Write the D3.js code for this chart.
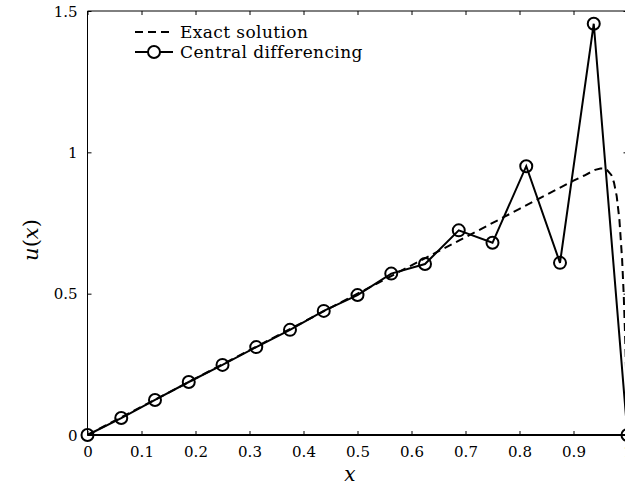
<!DOCTYPE html>
<html lang="en">
<head>
  <meta charset="UTF-8">
  <title>Central differencing vs exact</title>
  <script src="https://d3js.org/d3.v7.min.js"></script>
  <style>
    body { margin: 0; background: white; }
    text { font-family: "DejaVu Serif", serif; fill: #000; }
    .tick text { font-size: 15px; }
  </style>
</head>
<body>
  <div id="chart"></div>
  <script>
    const width = 625, height = 486;

    // Central differencing nodes (x = i/16)
    const cdX = [0, 0.0625, 0.125, 0.1875, 0.25, 0.3125, 0.375, 0.4375, 0.5,
                 0.5625, 0.625, 0.6875, 0.75, 0.8125, 0.875, 0.9375, 1];
    const cdU = [0, 0.06, 0.124, 0.1875, 0.248, 0.311, 0.372, 0.439, 0.495,
                 0.571, 0.605, 0.724, 0.68, 0.951, 0.609, 1.455, 0];

    // Exact solution
    const exactX = [0, 0.1, 0.2, 0.3, 0.4, 0.5, 0.6, 0.7, 0.8, 0.9, 0.92, 0.94, 0.95,
                    0.96, 0.97, 0.975, 0.98, 0.985, 0.99, 0.993, 0.996, 0.998, 1];
    const exactU = [0, 0.1, 0.2, 0.3, 0.4, 0.5, 0.6, 0.7, 0.8, 0.9, 0.918, 0.938, 0.943,
                    0.942, 0.92, 0.893, 0.845, 0.762, 0.622, 0.496, 0.326, 0.179, 0];

    const xTicks = [0, 0.1, 0.2, 0.3, 0.4, 0.5, 0.6, 0.7, 0.8, 0.9, 1];
    const yTicks = [0, 0.5, 1, 1.5];

    const margin = {left: 87.5, top: 11, right: 627.5, bottom: 435};

    const svg = d3.select("#chart").append("svg")
      .attr("width", width).attr("height", height);

    const x = d3.scaleLinear().domain([0, 1]).range([margin.left, margin.right]);
    const y = d3.scaleLinear().domain([0, 1.5]).range([margin.bottom, margin.top]);

    // bottom axis with labels, ticks inward
    svg.append("g")
      .attr("transform", `translate(0,${margin.bottom})`)
      .call(d3.axisBottom(x).tickValues(xTicks).tickSizeInner(-4).tickSizeOuter(0)
        .tickPadding(11).tickFormat(d => d3.format("")(d)))
      .call(g => g.select(".domain").remove());

    // top ticks
    svg.append("g")
      .attr("transform", `translate(0,${margin.top})`)
      .call(d3.axisTop(x).tickValues(xTicks).tickSizeInner(-4).tickSizeOuter(0).tickFormat(""))
      .call(g => g.select(".domain").remove());

    // left axis
    svg.append("g")
      .attr("transform", `translate(${margin.left},0)`)
      .call(d3.axisLeft(y).tickValues(yTicks).tickSizeInner(-4).tickSizeOuter(0)
        .tickPadding(10).tickFormat(d => d3.format("")(d)))
      .call(g => g.select(".domain").remove())
      .call(g => g.selectAll(".tick text").attr("dy", "0.35em"));

    // right ticks
    svg.append("g")
      .attr("transform", `translate(${margin.right},0)`)
      .call(d3.axisRight(y).tickValues(yTicks).tickSizeInner(-4).tickSizeOuter(0).tickFormat(""))
      .call(g => g.select(".domain").remove());

    // spines
    svg.append("line").attr("x1", margin.left).attr("x2", margin.right)
      .attr("y1", margin.top).attr("y2", margin.top).attr("stroke", "#000").attr("stroke-width", 1);
    svg.append("line").attr("x1", margin.left).attr("x2", margin.left)
      .attr("y1", margin.top).attr("y2", margin.bottom).attr("stroke", "#000").attr("stroke-width", 1);
    svg.append("line").attr("x1", margin.right).attr("x2", margin.right)
      .attr("y1", margin.top).attr("y2", margin.bottom).attr("stroke", "#000").attr("stroke-width", 1);
    svg.append("line").attr("x1", margin.left).attr("x2", margin.right)
      .attr("y1", margin.bottom).attr("y2", margin.bottom).attr("stroke", "#000").attr("stroke-width", 2);

    const line = d3.line().x(d => x(d[0])).y(d => y(d[1]));

    // exact solution
    svg.append("path")
      .datum(exactX.map((v, i) => [v, exactU[i]]))
      .attr("d", line)
      .attr("fill", "none").attr("stroke", "#000").attr("stroke-width", 2)
      .attr("stroke-dasharray", "8,5");

    // central differencing
    const cd = cdX.map((v, i) => [v, cdU[i]]);
    svg.append("path")
      .datum(cd)
      .attr("d", line)
      .attr("fill", "none").attr("stroke", "#000").attr("stroke-width", 2);

    svg.selectAll("circle.cd")
      .data(cd)
      .join("circle")
      .attr("class", "cd")
      .attr("cx", d => x(d[0])).attr("cy", d => y(d[1]))
      .attr("r", 6)
      .attr("fill", "none").attr("stroke", "#000").attr("stroke-width", 2);

    // legend
    const legend = svg.append("g");
    legend.append("line").attr("x1", 135).attr("x2", 173).attr("y1", 32).attr("y2", 32)
      .attr("stroke", "#000").attr("stroke-width", 2).attr("stroke-dasharray", "8,5");
    legend.append("text").attr("x", 180).attr("y", 37.5).attr("font-size", "17px")
      .attr("letter-spacing", "0.4px").text("Exact solution");
    legend.append("line").attr("x1", 135).attr("x2", 173).attr("y1", 52).attr("y2", 52)
      .attr("stroke", "#000").attr("stroke-width", 2);
    legend.append("circle").attr("cx", 154).attr("cy", 52).attr("r", 6)
      .attr("fill", "white").attr("stroke", "#000").attr("stroke-width", 2);
    legend.append("text").attr("x", 180).attr("y", 57.5).attr("font-size", "17px")
      .attr("letter-spacing", "0.4px").text("Central differencing");

    // axis labels
    svg.append("text")
      .attr("x", 350).attr("y", 481)
      .attr("text-anchor", "middle")
      .attr("font-size", "20px").attr("font-style", "italic")
      .text("x");

    svg.append("text")
      .attr("transform", "translate(38,240) rotate(-90)")
      .attr("text-anchor", "middle")
      .attr("font-size", "21px")
      .html('<tspan font-style="italic">u</tspan>(<tspan font-style="italic">x</tspan>)');
  </script>
</body>
</html>
